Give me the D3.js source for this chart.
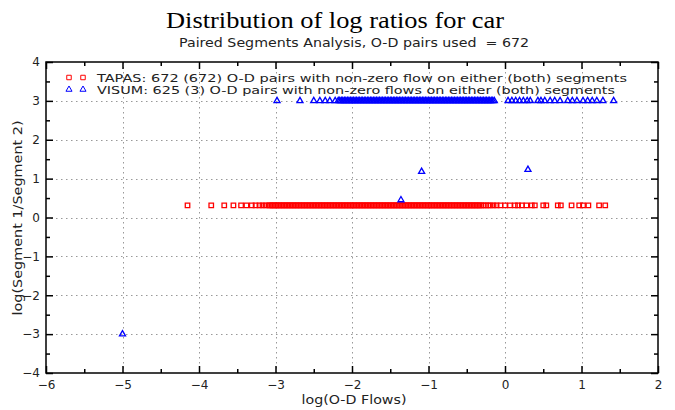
<!DOCTYPE html>
<html><head><meta charset="utf-8">
<script src="https://cdn.jsdelivr.net/npm/d3@7"></script>
<style>body{margin:0;background:#fff}svg{display:block}</style>
</head><body>
<svg id="c" width="675" height="410"></svg>
<script>
const title = "Distribution of log ratios for car";
const subtitle = "Paired Segments Analysis, O-D pairs used  = 672";
const xLabel = "log(O-D Flows)";
const yLabel = "log(Segment 1/Segment 2)";
const seriesNames = ["TAPAS: 672 (672) O-D pairs with non-zero flow on either (both) segments",
                     "VISUM: 625 (3) O-D pairs with non-zero flows on either (both) segments"];
const xTicks = [-6,-5,-4,-3,-2,-1,0,1,2];
const yTicks = [-4,-3,-2,-1,0,1,2,3,4];

// TAPAS: x = log(O-D flow), y = log ratio
const tapasX = [-4.15,-3.84,-3.67,-3.55,-3.45,-3.38,-3.31,-3.26,-3.21,-3.17,-3.13,
 -3.09,-3.07,-3.05,-3.03,-3.01,-2.99,-2.97,-2.95,-2.93,-2.91,-2.89,-2.87,-2.85,-2.83,
 -2.81,-2.79,-2.77,-2.75,-2.73,-2.71,-2.69,-2.67,-2.65,-2.63,-2.61,-2.59,-2.57,-2.55,
 -2.53,-2.51,-2.49,-2.47,-2.45,-2.43,-2.41,-2.39,-2.37,-2.35,-2.33,-2.31,-2.29,-2.27,
 -2.25,-2.23,-2.21,-2.19,-2.17,-2.15,-2.13,-2.11,-2.09,-2.07,-2.05,-2.03,-2.01,-1.99,
 -1.97,-1.95,-1.93,-1.91,-1.89,-1.87,-1.85,-1.83,-1.81,-1.79,-1.77,-1.75,-1.73,-1.71,
 -1.69,-1.67,-1.65,-1.63,-1.61,-1.59,-1.57,-1.55,-1.53,-1.51,-1.49,-1.47,-1.45,-1.43,
 -1.41,-1.39,-1.37,-1.35,-1.33,-1.31,-1.29,-1.27,-1.25,-1.23,-1.21,-1.19,-1.17,-1.15,
 -1.13,-1.11,-1.09,-1.07,-1.05,-1.03,-1.01,-0.99,-0.97,-0.95,-0.93,-0.91,-0.89,-0.87,
 -0.85,-0.83,-0.81,-0.79,-0.77,-0.75,-0.73,-0.71,-0.69,-0.67,-0.65,-0.63,-0.61,-0.59,
 -0.57,-0.55,-0.53,-0.51,-0.49,-0.47,-0.45,-0.43,-0.41,-0.39,-0.37,-0.35,-0.33,-0.31,
 -0.28,-0.25,-0.22,-0.19,-0.15,-0.11,-0.06,0.00,0.065,0.13,0.17,0.22,0.28,0.35,0.39,
 0.50,0.54,0.69,0.73,0.87,0.97,1.02,1.09,1.23,1.31];
const tapasY = tapasX.map(() => 0.31);

const visumX = [-5.00,-1.36,-1.09,0.30,
 -2.98,-2.68,-2.50,-2.42,-2.35,-2.29,-2.22,-2.18,
 -2.16,-2.14,-2.12,-2.10,-2.08,-2.06,-2.04,-2.02,-2.00,-1.98,-1.96,-1.94,-1.92,-1.90,
 -1.88,-1.86,-1.84,-1.82,-1.80,-1.78,-1.76,-1.74,-1.72,-1.70,-1.68,-1.66,-1.64,-1.62,
 -1.60,-1.58,-1.56,-1.54,-1.52,-1.50,-1.48,-1.46,-1.44,-1.42,-1.40,-1.38,-1.36,-1.34,
 -1.32,-1.30,-1.28,-1.26,-1.24,-1.22,-1.20,-1.18,-1.16,-1.14,-1.12,-1.10,-1.08,-1.06,
 -1.04,-1.02,-1.00,-0.98,-0.96,-0.94,-0.92,-0.90,-0.88,-0.86,-0.84,-0.82,-0.80,-0.78,
 -0.76,-0.74,-0.72,-0.70,-0.68,-0.66,-0.64,-0.62,-0.60,-0.58,-0.56,-0.54,-0.52,-0.50,
 -0.48,-0.46,-0.44,-0.42,-0.40,-0.38,-0.36,-0.34,-0.32,-0.30,-0.28,-0.26,-0.24,-0.22,
 -0.20,-0.18,-0.16,-0.14,
 0.04,0.09,0.14,0.19,0.24,0.29,0.33,0.43,0.47,0.52,0.59,0.65,0.72,0.82,0.88,0.94,
 1.02,1.08,1.14,1.20,1.28,1.42];
const visumY = [-3.00,0.45,1.18,1.23].concat(visumX.slice(4).map(() => 3));

const W = 675, H = 410;
const m = {l:46, r:17, t:62, b:37};
const svg = d3.select("#c");
const x = d3.scaleLinear().domain([-6,2]).range([m.l, W-m.r]);
const y = d3.scaleLinear().domain([-4,4]).range([H-m.b, m.t]);
const minorX = d3.range(-5.5, 2, 1), minorY = d3.range(-3.5, 4, 1);

// grid
const g = svg.append("g").attr("stroke","#999").attr("stroke-width",1).attr("stroke-dasharray","1.5,3.5");
g.selectAll(".gx").data(xTicks.slice(1,-1)).join("line")
  .attr("x1",d=>Math.round(x(d))+0.5).attr("x2",d=>Math.round(x(d))+0.5).attr("y1",m.t).attr("y2",H-m.b);
g.selectAll(".gy").data(yTicks.slice(1,-1)).join("line")
  .attr("y1",d=>Math.round(y(d))+0.5).attr("y2",d=>Math.round(y(d))+0.5).attr("x1",m.l).attr("x2",W-m.r);

// axes
const font = "'DejaVu Sans', Verdana, sans-serif";
function styleAxis(sel){ sel.select(".domain").remove(); sel.selectAll("line").attr("stroke","#000").attr("stroke-width",1.5);
  sel.selectAll("text").attr("font-family",font).attr("font-size",12).attr("fill","#222"); }
svg.append("g").attr("transform",`translate(0,${H-m.b})`)
  .call(d3.axisBottom(x).tickValues(xTicks).tickSize(-7).tickPadding(7).tickFormat(d3.format("d"))).call(styleAxis);
svg.append("g").attr("transform",`translate(0,${H-m.b})`)
  .call(d3.axisBottom(x).tickValues(minorX).tickSize(-4).tickFormat("")).call(styleAxis);
svg.append("g").attr("transform",`translate(0,${m.t})`)
  .call(d3.axisTop(x).tickValues(xTicks).tickSize(-7).tickFormat("")).call(styleAxis);
svg.append("g").attr("transform",`translate(0,${m.t})`)
  .call(d3.axisTop(x).tickValues(minorX).tickSize(-4).tickFormat("")).call(styleAxis);
svg.append("g").attr("transform",`translate(${m.l},0)`)
  .call(d3.axisLeft(y).tickValues(yTicks).tickSize(-7).tickPadding(6).tickFormat(d3.format("d"))).call(styleAxis);
svg.append("g").attr("transform",`translate(${m.l},0)`)
  .call(d3.axisLeft(y).tickValues(minorY).tickSize(-4).tickFormat("")).call(styleAxis);
svg.append("g").attr("transform",`translate(${W-m.r},0)`)
  .call(d3.axisRight(y).tickValues(yTicks).tickSize(-7).tickFormat("")).call(styleAxis);
svg.append("g").attr("transform",`translate(${W-m.r},0)`)
  .call(d3.axisRight(y).tickValues(minorY).tickSize(-4).tickFormat("")).call(styleAxis);
svg.append("rect").attr("x",m.l).attr("y",m.t).attr("width",W-m.l-m.r).attr("height",H-m.t-m.b)
  .attr("fill","none").attr("stroke","#000").attr("stroke-width",1.5);

// legend
const leg = [{c:"#ff0000", s:d3.symbolSquare, sz:20},{c:"#0000ff", s:d3.symbolTriangle, sz:16}];
seriesNames.forEach((t,i)=>{
  const yy = 77.5 + i*12;
  [69,83].forEach(xx=>svg.append("path").attr("d",d3.symbol(leg[i].s,leg[i].sz)())
    .attr("transform",`translate(${xx},${yy})`).attr("fill","none").attr("stroke",leg[i].c).attr("stroke-width",1));
  svg.append("text").attr("x",97).attr("y",yy+4).attr("font-family",font).attr("font-size",10.5)
    .attr("textLength", i===0 ? 530 : 518).attr("lengthAdjust","spacingAndGlyphs")
    .attr("fill","#222").text(t);
});

// data
const pts = svg.append("g");
pts.selectAll(".t").data(tapasX.map((d,i)=>[d,tapasY[i]])).join("path")
  .attr("d",d3.symbol(d3.symbolSquare,20)()).attr("transform",d=>`translate(${x(d[0])},${y(d[1])})`)
  .attr("fill","none").attr("stroke","#ff0000").attr("stroke-width",1.3);
pts.selectAll(".v").data(visumX.map((d,i)=>[d,visumY[i]])).join("path")
  .attr("d",d3.symbol(d3.symbolTriangle,16)()).attr("transform",d=>`translate(${x(d[0])},${y(d[1])})`)
  .attr("fill","none").attr("stroke","#0000ff").attr("stroke-width",1.3);

// titles
svg.append("text").attr("x",335).attr("y",28).attr("text-anchor","middle")
  .attr("textLength",338).attr("lengthAdjust","spacingAndGlyphs")
  .attr("font-family","'Liberation Serif','Times New Roman',serif").attr("font-size",23).attr("fill","#000").text(title);
svg.append("text").attr("x",354).attr("y",47).attr("text-anchor","middle").style("white-space","pre")
  .attr("textLength",350).attr("lengthAdjust","spacingAndGlyphs")
  .attr("font-family",font).attr("font-size",12).attr("fill","#222").text(subtitle);
svg.append("text").attr("x",354).attr("y",404).attr("text-anchor","middle")
  .attr("textLength",105).attr("lengthAdjust","spacingAndGlyphs")
  .attr("font-family",font).attr("font-size",12).attr("fill","#222").text(xLabel);
svg.append("text").attr("transform","translate(22,218) rotate(-90)").attr("text-anchor","middle")
  .attr("textLength",195).attr("lengthAdjust","spacingAndGlyphs")
  .attr("font-family",font).attr("font-size",13).attr("fill","#222").text(yLabel);
</script>
</body></html>
